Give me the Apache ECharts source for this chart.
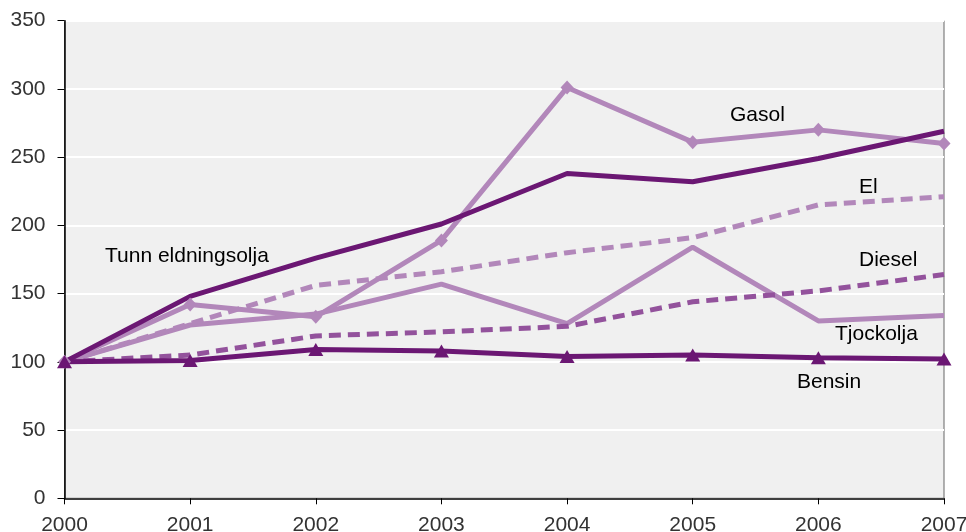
<!DOCTYPE html>
<html>
<head>
<meta charset="utf-8">
<script src="https://cdn.jsdelivr.net/npm/echarts@6/dist/echarts.min.js"></script>
<style>
  html, body { margin: 0; padding: 0; background: #ffffff; }
  #chart { width: 966px; height: 532px; }
</style>
</head>
<body>
<div id="chart"></div>
<script>
// Price index per fuel, 2000 = 100
const years = ['2000', '2001', '2002', '2003', '2004', '2005', '2006', '2007'];
const yTicks = [0, 50, 100, 150, 200, 250, 300, 350];

const tunnEldningsolja = [100, 148, 176, 201, 238, 232, 249, 269];
const gasol            = [100, 142, 133, 189, 301, 261, 270, 260];
const el               = [100, 128, 156, 166, 180, 191, 215, 221];
const diesel           = [100, 105, 119, 122, 126, 144, 152, 164];
const tjockolja        = [100, 127, 135, 157, 128, 184, 130, 134];
const bensin           = [100, 101, 109, 108, 104, 105, 103, 102];

const DARK = '#6b1773';
const MID = '#93529c';
const LIGHT = '#b287ba';
const FONT = '"Liberation Sans", Arial, sans-serif';
const FS = 21;
const LW = 5;

const chart = echarts.init(document.getElementById('chart'), null, { renderer: 'canvas' });

function lineSeries(name, data, color, opts) {
  return Object.assign({
    name: name,
    type: 'line',
    data: data,
    symbol: 'none',
    symbolSize: 12,
    lineStyle: { color: color, width: LW, type: 'solid' },
    itemStyle: { color: color },
    emphasis: { disabled: true },
    animation: false
  }, opts || {});
}

const option = {
  backgroundColor: '#ffffff',
  textStyle: { fontFamily: FONT },
  grid: {
    left: 64.5, right: 22, top: 20.7, bottom: 33.7,
    outerBoundsMode: 'none',
    containLabel: false,
    show: true,
    backgroundColor: '#f0f0f0',
    borderColor: '#666666',
    borderWidth: 1
  },
  xAxis: {
    type: 'category',
    data: years,
    boundaryGap: false,
    axisLine: { lineStyle: { color: '#000000', width: 1.5 } },
    axisTick: { show: true, length: 6, inside: false, lineStyle: { color: '#000000', width: 1 } },
    axisLabel: { color: '#333333', fontSize: FS, fontFamily: FONT, margin: 16, showMaxLabel: true, showMinLabel: true, interval: 0, hideOverlap: false },
    splitLine: { show: false }
  },
  yAxis: {
    type: 'value',
    min: yTicks[0],
    max: yTicks[yTicks.length - 1],
    interval: 50,
    axisLine: { show: true, lineStyle: { color: '#000000', width: 1.5 } },
    axisTick: { show: true, length: 7, lineStyle: { color: '#000000', width: 1 } },
    axisLabel: { color: '#333333', fontSize: FS, fontFamily: FONT, margin: 19 },
    splitLine: { show: true, lineStyle: { color: '#ffffff', width: 2 } }
  },
  series: [
    lineSeries('Tjockolja', tjockolja, LIGHT),
    lineSeries('El', el, LIGHT, { lineStyle: { color: LIGHT, width: LW, type: [12, 7] } }),
    lineSeries('Diesel', diesel, MID, { lineStyle: { color: MID, width: LW, type: [12, 7] } }),
    lineSeries('Gasol', gasol, LIGHT, { symbol: 'diamond', symbolSize: [13, 14] }),
    lineSeries('Tunn eldningsolja', tunnEldningsolja, DARK),
    lineSeries('Bensin', bensin, DARK, { symbol: 'triangle', symbolSize: [15, 13] })
  ],
  graphic: [
    { type: 'text', left: 105, top: 246, style: { text: 'Tunn eldningsolja', font: FS + 'px ' + FONT, fill: '#000000' } },
    { type: 'text', left: 730, top: 105, style: { text: 'Gasol', font: FS + 'px ' + FONT, fill: '#000000' } },
    { type: 'text', left: 859, top: 177, style: { text: 'El', font: FS + 'px ' + FONT, fill: '#000000' } },
    { type: 'text', left: 859, top: 250, style: { text: 'Diesel', font: FS + 'px ' + FONT, fill: '#000000' } },
    { type: 'text', left: 835, top: 324, style: { text: 'Tjockolja', font: FS + 'px ' + FONT, fill: '#000000' } },
    { type: 'text', left: 797, top: 372, style: { text: 'Bensin', font: FS + 'px ' + FONT, fill: '#000000' } }
  ]
};

chart.setOption(option);
</script>
</body>
</html>
